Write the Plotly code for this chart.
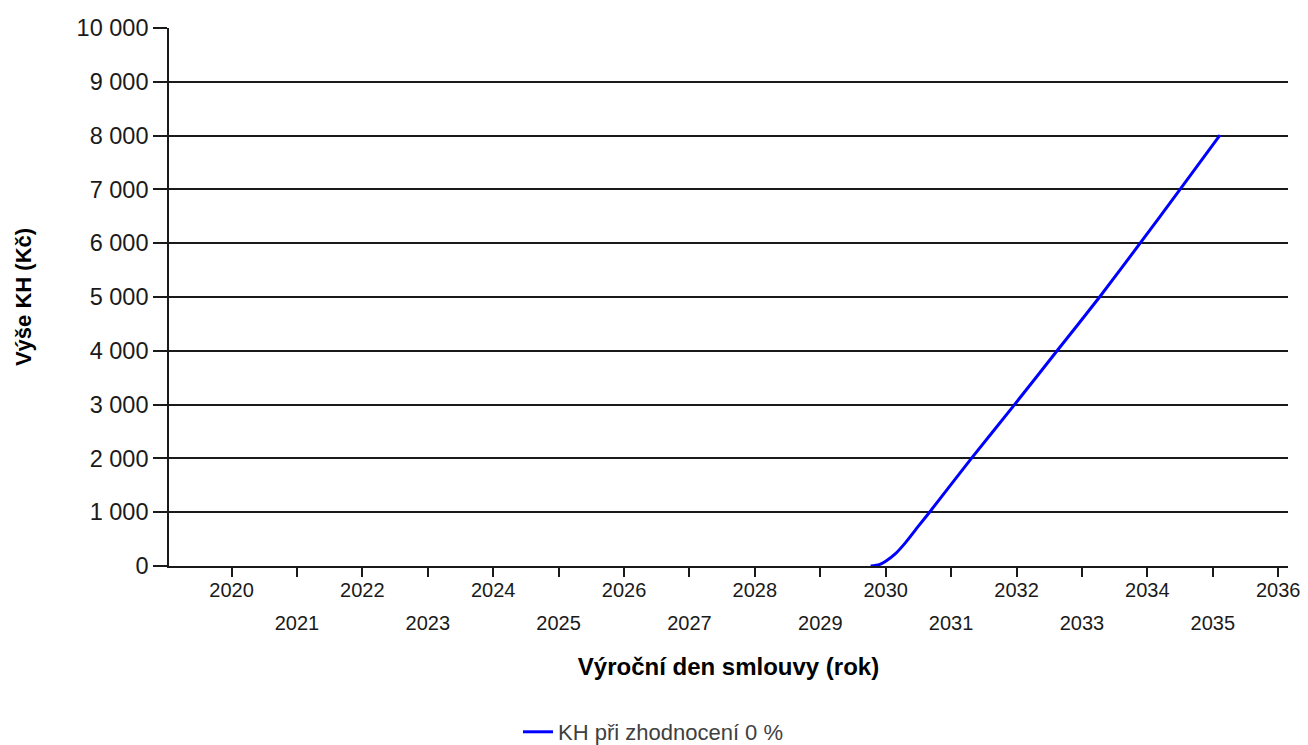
import plotly.graph_objects as go

# Data
years = list(range(2020, 2037))
even_labels = [str(y) if y % 2 == 0 else "" for y in years]
odd_labels = [str(y) if y % 2 == 1 else "" for y in years]

kh_x = [2029.77, 2029.90, 2030.00, 2030.15, 2030.30, 2030.50, 2030.67,
        2031.31, 2031.97, 2032.62, 2033.27, 2033.89, 2034.50, 2035.11]
kh_y = [0, 25, 90, 230, 430, 740, 1000,
        2000, 3000, 4000, 5000, 6000, 7000, 8010]

y_ticks = list(range(0, 10001, 1000))

series_name = "KH při zhodnocení 0 %"
x_title = "Výroční den smlouvy (rok)"
y_title = "Výše KH (Kč)"

FONT = "Liberation Sans, Arial, sans-serif"
X_RANGE = [2019.044, 2036.15]
W, H = 1300, 737

fig = go.Figure()
fig.add_trace(go.Scatter(
    x=kh_x, y=kh_y, mode="lines", name=series_name,
    line=dict(color="#0000ff", width=3, shape="spline", smoothing=0.6),
))
# helper trace to activate the second (odd-year label) axis
fig.add_trace(go.Scatter(
    x=kh_x, y=kh_y, mode="lines", xaxis="x2", showlegend=False,
    hoverinfo="skip", line=dict(width=0), opacity=0,
))

fig.update_layout(
    width=W, height=H,
    margin=dict(l=161, r=20, t=20, b=179),
    paper_bgcolor="white", plot_bgcolor="white",
    font=dict(family=FONT, color="#1a1a1a"),
    separators=", ",
    showlegend=True,
    legend=dict(
        orientation="h", xref="container", yref="container",
        x=510 / W, xanchor="left", y=13 / H, yanchor="middle",
        font=dict(size=22, color="#404040", family=FONT),
        bgcolor="rgba(0,0,0,0)",
    ),
    xaxis=dict(
        range=X_RANGE, tickmode="array", tickvals=years, ticktext=even_labels,
        ticks="outside", ticklen=9, tickwidth=1.6, tickcolor="#1a1a1a",
        showline=True, linecolor="#1a1a1a", linewidth=1.6,
        showgrid=False, zeroline=False,
        ticklabelstandoff=-4,
        tickfont=dict(size=20, family=FONT, color="#1a1a1a"),
        title=dict(text="<b>" + x_title + "</b>", standoff=58,
                   font=dict(size=24, family=FONT, color="#000000")),
        automargin=False,
    ),
    xaxis2=dict(
        range=X_RANGE, overlaying="x", side="bottom", anchor="y",
        tickmode="array", tickvals=years, ticktext=odd_labels,
        ticks="", showline=False, showgrid=False, zeroline=False,
        ticklabelstandoff=43,
        tickfont=dict(size=20, family=FONT, color="#1a1a1a"),
        automargin=False,
    ),
    yaxis=dict(
        range=[0, 10000], tickmode="array", tickvals=y_ticks,
        tickformat=",d",
        ticks="outside", ticklen=14, tickwidth=1.6, tickcolor="#1a1a1a",
        showline=True, linecolor="#1a1a1a", linewidth=1.6,
        showgrid=True, gridcolor="#1a1a1a", gridwidth=1.6,
        zeroline=False,
        tickfont=dict(size=23.5, family=FONT, color="#1a1a1a"),
        title=dict(text="<b>" + y_title + "</b>", standoff=39,
                   font=dict(size=22, family=FONT, color="#000000")),
        automargin=False,
    ),
)

fig.write_html("out.html")
